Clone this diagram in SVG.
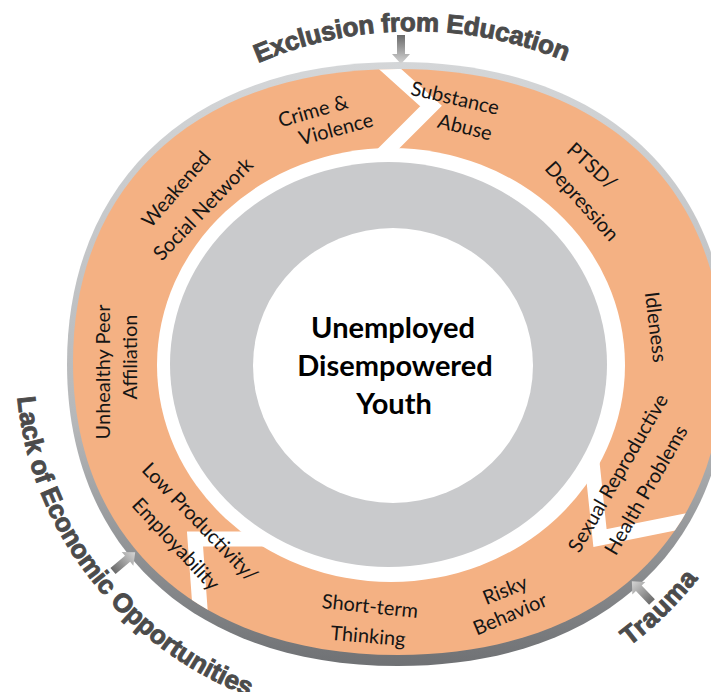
<svg xmlns="http://www.w3.org/2000/svg" xmlns:xlink="http://www.w3.org/1999/xlink" width="711" height="692" viewBox="0 0 711 692">
<style>
.lbl{font-family:Lato,"Liberation Sans",sans-serif;font-size:20px;fill:#151515;text-anchor:middle}
.ctr{font-family:Lato,"Liberation Sans",sans-serif;font-size:29px;font-weight:bold;fill:#000;text-anchor:middle}
.arc{font-family:"Liberation Sans",Arial,sans-serif;font-size:26px;font-weight:bold;fill:#4b4b4b;stroke:#4b4b4b;stroke-width:0.9}
.gap{fill:none;stroke:#fff;stroke-width:15;stroke-linejoin:miter;stroke-miterlimit:10}
</style>
<defs>
<linearGradient id="bord" x1="0" y1="0" x2="0" y2="1">
<stop offset="0" stop-color="#d4d6d8"/><stop offset="0.6" stop-color="#b5b7b9"/><stop offset="1" stop-color="#6f7174"/>
</linearGradient>
<linearGradient id="arrg" x1="0" y1="0" x2="1" y2="0">
<stop offset="0" stop-color="#6a6a6a"/><stop offset="1" stop-color="#d6d6d6"/>
</linearGradient>
<path id="orangeShape" d="M723,362 C723,541.6 597.2,655 398,655 C198.8,655 73,541.6 73,362 C73,182.4 198.8,69 398,69 C597.2,69 723,182.4 723,362 Z"/>
<clipPath id="ringclip"><use href="#orangeShape" xlink:href="#orangeShape"/></clipPath>
<polygon id="arr" points="0,-4 19,-4 19,-9 29,0 19,9 19,4 0,4" fill="url(#arrg)"/>
<path id="pEdu" d="M258,63 A396,396 0 0 1 567,62"/>
<path id="pLack" d="M17.4,397.2 A378,358 0 0 0 252.4,697.9"/>
<path id="pTrauma" d="M629.3,646.2 A378,358 0 0 0 697.9,579"/>
</defs>

<g id="ring">
<path d="M729,364 C729,549.1 600.9,666 398,666 C195.1,666 67,549.1 67,364 C67,178.9 195.1,62 398,62 C600.9,62 729,178.9 729,364 Z" fill="url(#bord)"/>
<use href="#orangeShape" xlink:href="#orangeShape" fill="#f4b183"/>
<ellipse cx="391" cy="365" rx="234" ry="217" fill="#fff"/>
<g clip-path="url(#ringclip)">
<polyline class="gap" points="380,60 431,106 381,156"/>
<polyline class="gap" points="268,539 195,539 201,622"/>
<polyline class="gap" points="592,462 600,538 690,520"/>
</g>
<ellipse cx="388.5" cy="364.5" rx="218.5" ry="202.5" fill="#c9cacc"/>
</g>

<g id="center">
<ellipse cx="393" cy="365.5" rx="140" ry="137.5" fill="#fff"/>
<text class="ctr" x="393" y="338">Unemployed</text>
<text class="ctr" x="395" y="376">Disempowered</text>
<text class="ctr" x="394" y="414">Youth</text>
</g>

<g id="crime-violence">
<text class="lbl" transform="translate(313,111) rotate(-16)" dy="0.35em">Crime &amp;</text>
<text class="lbl" transform="translate(336,129) rotate(-15)" dy="0.35em">Violence</text>
</g>
<g id="substance-abuse">
<text class="lbl" transform="translate(455,98) rotate(13)" dy="0.35em">Substance</text>
<text class="lbl" transform="translate(465,127) rotate(14)" dy="0.35em">Abuse</text>
</g>
<g id="ptsd-depression">
<text class="lbl" transform="translate(592,166) rotate(42)" dy="0.35em">PTSD/</text>
<text class="lbl" transform="translate(582,201) rotate(48)" dy="0.35em">Depression</text>
</g>
<g id="idleness">
<text class="lbl" transform="translate(656,327) rotate(83)" dy="0.35em">Idleness</text>
</g>
<g id="sexual-health">
<text class="lbl" transform="translate(618,473) rotate(-60)" dy="0.35em">Sexual Reproductive</text>
<text class="lbl" transform="translate(646,490) rotate(-60)" dy="0.35em">Health Problems</text>
</g>
<g id="risky-behavior">
<text class="lbl" transform="translate(505,590) rotate(-22)" dy="0.35em">Risky</text>
<text class="lbl" transform="translate(510,614) rotate(-23)" dy="0.35em">Behavior</text>
</g>
<g id="short-term-thinking">
<text class="lbl" transform="translate(370,606) rotate(6)" dy="0.35em">Short-term</text>
<text class="lbl" transform="translate(368,636) rotate(5)" dy="0.35em">Thinking</text>
</g>
<g id="low-productivity">
<text class="lbl" transform="translate(200,522) rotate(46)" dy="0.35em">Low Productivity/</text>
<text class="lbl" transform="translate(176,544) rotate(47)" dy="0.35em">Employability</text>
</g>
<g id="unhealthy-peer">
<text class="lbl" transform="translate(103,372) rotate(-90)" dy="0.35em">Unhealthy Peer</text>
<text class="lbl" transform="translate(130,357) rotate(-90)" dy="0.35em">Affiliation</text>
</g>
<g id="weakened-network">
<text class="lbl" transform="translate(176,189) rotate(-49)" dy="0.35em">Weakened</text>
<text class="lbl" transform="translate(203,209) rotate(-46)" dy="0.35em">Social Network</text>
</g>

<g id="exclusion">
<text class="arc"><textPath href="#pEdu" xlink:href="#pEdu" textLength="316" lengthAdjust="spacing">Exclusion from Education</textPath></text>
</g>
<g id="lack">
<text class="arc"><textPath href="#pLack" xlink:href="#pLack" textLength="398" lengthAdjust="spacing">Lack of Economic Opportunities</textPath></text>
</g>
<g id="trauma">
<text class="arc"><textPath href="#pTrauma" xlink:href="#pTrauma" textLength="97" lengthAdjust="spacing">Trauma</textPath></text>
</g>

<g id="connectors">
<use href="#arr" xlink:href="#arr" transform="translate(401,35) rotate(90)"/>
<use href="#arr" xlink:href="#arr" transform="translate(113,571) rotate(-40)"/>
<use href="#arr" xlink:href="#arr" transform="translate(652,602) rotate(-134)"/>
</g>
</svg>
